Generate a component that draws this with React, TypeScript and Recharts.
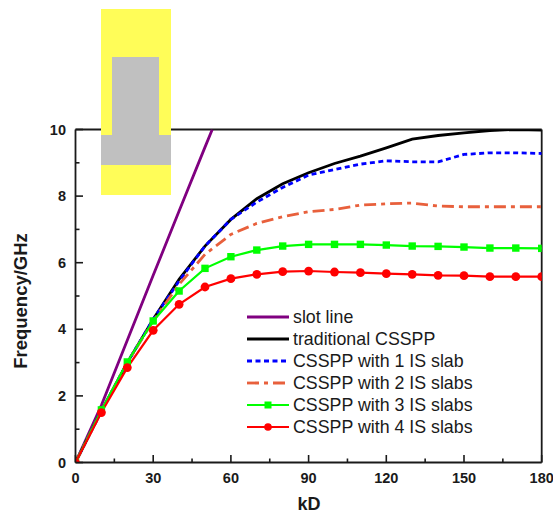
import React from "react";
import { LineChart, Line, XAxis, YAxis, ReferenceLine } from "recharts";

const kD = [0, 10, 20, 30, 40, 50, 60, 70, 80, 90, 100, 110, 120, 130, 140, 150, 160, 170, 180];
const slotKD = [0, 10, 20, 30, 40, 50, 52.8];
const slotLine = [0, 1.72, 3.67, 5.62, 7.55, 9.47, 10];
const traditional = [0, 1.55, 3.0, 4.3, 5.5, 6.5, 7.3, 7.92, 8.37, 8.7, 8.98, 9.2, 9.45, 9.71, 9.82, 9.9, 9.97, 10, 9.98];
const oneSlab = [0, 1.55, 3.0, 4.3, 5.45, 6.5, 7.3, 7.82, 8.26, 8.63, 8.8, 8.96, 9.06, 9.03, 9.03, 9.25, 9.3, 9.3, 9.28];
const twoSlabs = [0, 1.55, 3.0, 4.25, 5.35, 6.25, 6.85, 7.18, 7.38, 7.53, 7.6, 7.73, 7.77, 7.79, 7.7, 7.68, 7.68, 7.68, 7.68];
const threeSlabs = [0, 1.58, 3.02, 4.25, 5.15, 5.83, 6.18, 6.38, 6.5, 6.55, 6.55, 6.55, 6.53, 6.5, 6.49, 6.47, 6.44, 6.44, 6.43];
const fourSlabs = [0, 1.5, 2.85, 3.97, 4.75, 5.27, 5.52, 5.65, 5.73, 5.75, 5.72, 5.7, 5.67, 5.65, 5.62, 5.61, 5.58, 5.58, 5.58];

const xTicks = [0, 15, 30, 45, 60, 75, 90, 105, 120, 135, 150, 165, 180];
const yTicks = [0, 1, 2, 3, 4, 5, 6, 7, 8, 9, 10];
const xLabels = [0, 30, 60, 90, 120, 150, 180];
const yLabels = [0, 2, 4, 6, 8, 10];

const toPoints = (xs: number[], ys: number[]) => xs.map((k, i) => ({ k, v: ys[i] }));

const FONT = "'Liberation Sans', Arial, sans-serif";
const AXIS = "#1a1a1a";

const Square = (p: any) => <rect key={p.key} x={p.cx - 3.7} y={p.cy - 3.7} width={7.4} height={7.4} fill="#00FF00" clipPath="url(#plotClip)" />;
const Circle = (p: any) => <circle key={p.key} cx={p.cx} cy={p.cy} r={4.4} fill="#FF0000" clipPath="url(#plotClip)" />;

const series = [
  { name: "slot line", color: "#800080", width: 2.8, dash: undefined, data: toPoints(slotKD, slotLine), dot: false, mark: null },
  { name: "traditional CSSPP", color: "#000000", width: 2.8, dash: undefined, data: toPoints(kD, traditional), dot: false, mark: null },
  { name: "CSSPP with 1 IS slab", color: "#0000FF", width: 2.8, dash: "5 3.5", data: toPoints(kD, oneSlab), dot: false, mark: null },
  { name: "CSSPP with 2 IS slabs", color: "#E8603C", width: 2.8, dash: "12 5 4 5", data: toPoints(kD, twoSlabs), dot: false, mark: null },
  { name: "CSSPP with 3 IS slabs", color: "#00FF00", width: 2.2, dash: undefined, data: toPoints(kD, threeSlabs), dot: Square, mark: "square" },
  { name: "CSSPP with 4 IS slabs", color: "#FF0000", width: 2.2, dash: undefined, data: toPoints(kD, fourSlabs), dot: Circle, mark: "circle" },
];

const XTick = (p: any) => {
  const major = xLabels.includes(p.payload.value);
  return (
    <g>
      <line x1={p.x} x2={p.x} y1={p.y} y2={p.y - (major ? 7.5 : 4)} stroke={AXIS} strokeWidth={1.6} />
      {major && (
        <text x={p.x} y={p.y + 20} textAnchor="middle" fontFamily={FONT} fontWeight="bold" fontSize={14.5} fill={AXIS}>
          {p.payload.value}
        </text>
      )}
    </g>
  );
};

const YTick = (p: any) => {
  const major = yLabels.includes(p.payload.value);
  return (
    <g>
      <line x1={p.x} x2={p.x + (major ? 7.5 : 4)} y1={p.y} y2={p.y} stroke={AXIS} strokeWidth={1.6} />
      {major && (
        <text x={p.x - 9.5} y={p.y + 5} textAnchor="end" fontFamily={FONT} fontWeight="bold" fontSize={14.5} fill={AXIS}>
          {p.payload.value}
        </text>
      )}
    </g>
  );
};

const LegendBox = () => (
  <div style={{ position: "absolute", left: 247, top: 306 }}>
    {series.map((s) => (
      <div key={s.name} style={{ display: "flex", alignItems: "center", height: 22 }}>
        <svg width={42} height={14} style={{ display: "block" }}>
          <line x1={0} x2={42} y1={7} y2={7} stroke={s.color} strokeWidth={s.width} strokeDasharray={s.dash} />
          {s.mark === "square" && <rect x={17.5} y={3.5} width={7} height={7} fill={s.color} />}
          {s.mark === "circle" && <circle cx={21} cy={7} r={3.8} fill={s.color} />}
        </svg>
        <span style={{ marginLeft: 4, fontFamily: FONT, fontSize: 17.8, color: "#1a1a1a", whiteSpace: "nowrap", lineHeight: "22px" }}>
          {s.name}
        </span>
      </div>
    ))}
  </div>
);

const yellow = "#FFFD58";
const gray = "#C0C0C0";
const box = (left: number, top: number, width: number, height: number, background: string): React.CSSProperties => ({
  position: "absolute", left, top, width, height, background,
});

export default function App() {
  return (
    <div style={{ position: "absolute", left: 0, top: 0, width: 553, height: 513, background: "#fff", overflow: "hidden" }}>
      <svg width={0} height={0} style={{ position: "absolute" }}>
        <defs>
          <clipPath id="plotClip" clipPathUnits="userSpaceOnUse">
            <rect x={75.5} y={129.5} width={466.2} height={333} />
          </clipPath>
        </defs>
      </svg>
      <LineChart
        width={553}
        height={513}
        margin={{ top: 129.5, left: 45.5, right: 11.3, bottom: 20.5 }}
      >
        <XAxis
          type="number"
          dataKey="k"
          domain={[0, 180]}
          ticks={xTicks}
          interval={0}
          allowDataOverflow
          height={30}
          tickSize={0}
          tickMargin={0}
          tickLine={false}
          tick={XTick}
          axisLine={{ stroke: AXIS, strokeWidth: 1.8 }}
        />
        <YAxis
          type="number"
          dataKey="v"
          domain={[0, 10]}
          ticks={yTicks}
          interval={0}
          allowDataOverflow
          width={30}
          tickSize={0}
          tickMargin={0}
          tickLine={false}
          tick={YTick}
          axisLine={{ stroke: AXIS, strokeWidth: 1.8 }}
        />
        <ReferenceLine y={10} stroke={AXIS} strokeWidth={1.8} />
        <ReferenceLine x={180} stroke={AXIS} strokeWidth={1.8} />
        {series.map((s) => (
          <Line
            key={s.name}
            name={s.name}
            data={s.data}
            dataKey="v"
            type="linear"
            stroke={s.color}
            strokeWidth={s.width}
            strokeDasharray={s.dash}
            dot={s.dot as any}
            activeDot={false}
            isAnimationActive={false}
          />
        ))}
      </LineChart>
      <LegendBox />
      <div style={{ position: "absolute", left: 309, top: 494, transform: "translateX(-50%)", fontFamily: FONT, fontWeight: "bold", fontSize: 18, color: AXIS }}>kD</div>
      <div style={{ position: "absolute", left: 20.5, top: 300.5, transform: "translate(-50%,-50%) rotate(-90deg)", fontFamily: FONT, fontWeight: "bold", fontSize: 18.5, color: AXIS, whiteSpace: "nowrap" }}>Frequency/GHz</div>
      <div style={box(101, 9, 70, 186, yellow)} />
      <div style={box(112, 57, 46.5, 78, gray)} />
      <div style={box(101, 134.7, 70, 30.8, gray)} />
    </div>
  );
}
